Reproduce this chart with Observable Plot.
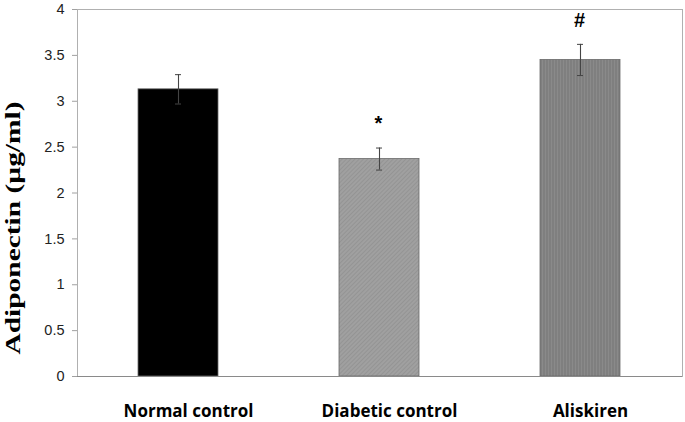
<!DOCTYPE html>
<html>
<head>
<meta charset="utf-8">
<script src="https://cdn.jsdelivr.net/npm/d3@7"></script>
<script src="https://cdn.jsdelivr.net/npm/@observablehq/plot@0.6"></script>
<style>
body { margin: 0; background: #fff; }
</style>
</head>
<body>
<div id="chart"></div>
<script>
const groups = ["Normal control", "Diabetic control", "Aliskiren"];
const means = [3.13, 2.37, 3.45];
const errors = [0.16, 0.12, 0.17];
const marks = ["", "*", "#"];
const fills = ["#000000", "url(#hatchDiag)", "url(#hatchVert)"];
const yTicks = [0, 0.5, 1, 1.5, 2, 2.5, 3, 3.5, 4];
const yLabel = "Adiponectin (µg/ml)";

const data = groups.map((g, i) => ({group: g, mean: means[i], err: errors[i], mark: marks[i], fill: fills[i]}));

const chart = Plot.plot({
  width: 685,
  height: 422,
  marginLeft: 77,
  marginRight: 3,
  marginTop: 9,
  marginBottom: 46,
  style: {background: "#fff", overflow: "visible"},
  x: {domain: groups, paddingInner: 0.6, paddingOuter: 0.3, label: null, axis: null},
  y: {domain: [0, 4], label: null, axis: null},
  marks: [
    Plot.frame({stroke: "#b0b0b0"}),
    Plot.barY(data, {x: "group", y: "mean", fill: d => d.fill, stroke: "#6a6a6a", strokeWidth: 0.8}),
    Plot.ruleX(data, {x: "group", y1: d => d.mean - d.err, y2: d => d.mean + d.err, stroke: "#444", strokeWidth: 1.1}),
    Plot.tickY(data, {x: "group", y: d => d.mean + d.err, stroke: "#444", insetLeft: 37, insetRight: 37}),
    Plot.tickY(data, {x: "group", y: d => d.mean - d.err, stroke: "#444", insetLeft: 37, insetRight: 37}),
    Plot.text(data, {x: "group", y: d => d.mean + d.err, text: "mark", dy: -24, dx: -1, fontSize: 20, fontWeight: "bold", fill: "#000", fontFamily: "Liberation Sans, sans-serif"}),
    Plot.ruleY([0], {stroke: "#8a8a8a", strokeWidth: 1.2}),
    Plot.axisY({ticks: yTicks, tickSize: 5, tickPadding: 8, stroke: "#a0a0a0", fontSize: 14.5, fill: "#222", fontFamily: "Liberation Sans, sans-serif", label: null, tickFormat: d => String(d)}),
    Plot.ruleX([0], {frameAnchor: "left", stroke: "#a0a0a0"}),
    Plot.axisX({tickSize: 0, tickPadding: 28, dx: 10, fontSize: 17, fontWeight: "bold", fill: "#000", fontFamily: "Open Sans, sans-serif", label: null}),
    Plot.text([yLabel], {frameAnchor: "left", textAnchor: "middle", dx: -64, dy: 35, rotate: -90, fontSize: 21, fontWeight: "bold", fontFamily: "Liberation Serif, serif", fill: "#000"})
  ]
});

const ns = "http://www.w3.org/2000/svg";
const defs = document.createElementNS(ns, "defs");
defs.innerHTML = `
<pattern id="hatchDiag" patternUnits="userSpaceOnUse" width="3" height="3" patternTransform="rotate(45)">
  <rect width="3" height="3" fill="#a0a0a0"/>
  <line x1="0" y1="0" x2="0" y2="3" stroke="#8c8c8c" stroke-width="1.2"/>
</pattern>
<pattern id="hatchVert" patternUnits="userSpaceOnUse" width="3" height="3">
  <rect width="3" height="3" fill="#8a8a8a"/>
  <line x1="1" y1="0" x2="1" y2="3" stroke="#747474" stroke-width="1"/>
</pattern>`;
chart.insertBefore(defs, chart.firstChild);
chart.querySelectorAll("text").forEach(t => {
  if (t.textContent === yLabel) {
    t.setAttribute("textLength", "253");
    t.setAttribute("lengthAdjust", "spacingAndGlyphs");
  }
});
document.getElementById("chart").appendChild(chart);
</script>
</body>
</html>
